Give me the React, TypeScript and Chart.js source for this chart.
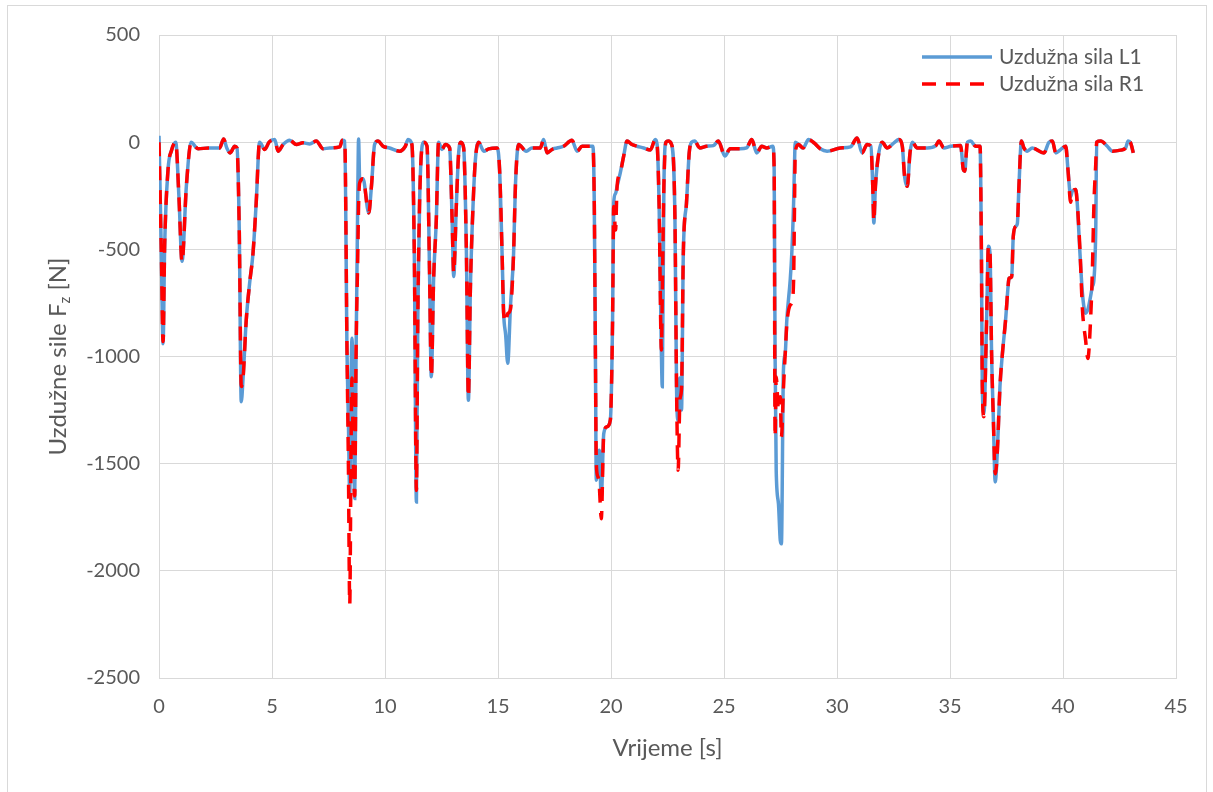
import React, { useEffect, useRef } from "react";
import { Chart, registerables } from "chart.js";

Chart.register(...registerables);

const timeS = [
  0, 0.1, 0.18, 0.25, 0.4, 0.55, 0.74, 0.88, 1.02, 1.21, 1.43, 1.6, 1.73, 2.2, 2.68, 2.86, 3.0, 3.15, 3.35, 3.45,
  3.55, 3.64, 3.72, 3.86, 4.01, 4.16, 4.3, 4.45, 4.68, 4.87, 5.12, 5.27, 5.49, 5.78, 6.08, 6.37, 6.67, 6.96, 7.26, 7.55,
  8.0, 8.11, 8.22, 8.32, 8.38, 8.44, 8.5, 8.54, 8.6, 8.66, 8.72, 8.8, 8.83, 8.88, 9.03, 9.28, 9.4, 9.54, 9.69, 9.91,
  10.2, 10.65, 10.9, 11.02, 11.19, 11.3, 11.39, 11.45, 11.53, 11.64, 11.71, 11.86, 11.97, 12.05, 12.15, 12.27, 12.37, 12.52, 12.67, 12.86,
  12.97, 13.04, 13.16, 13.26, 13.36, 13.48, 13.6, 13.69, 13.78, 13.9, 14.0, 14.14, 14.37, 14.59, 14.96, 15.07, 15.18, 15.25, 15.34, 15.43,
  15.55, 15.69, 15.77, 15.91, 16.25, 16.5, 16.87, 17.02, 17.17, 17.39, 17.61, 17.9, 18.27, 18.5, 18.72, 18.94, 19.2, 19.26, 19.31, 19.35,
  19.42, 19.48, 19.57, 19.68, 19.82, 19.97, 20.07, 20.12, 20.2, 20.27, 20.41, 20.56, 20.71, 20.93, 21.15, 21.45, 21.74, 21.96, 22.04, 22.13,
  22.23, 22.27, 22.34, 22.43, 22.53, 22.68, 22.83, 22.9, 22.97, 23.05, 23.12, 23.2, 23.34, 23.46, 23.57, 23.7, 23.93, 24.23, 24.53, 24.75,
  25.04, 25.27, 25.71, 26.0, 26.23, 26.45, 26.67, 26.89, 27.16, 27.22, 27.26, 27.31, 27.41, 27.49, 27.54, 27.63, 27.71, 27.78, 27.93, 28.0,
  28.08, 28.12, 28.15, 28.3, 28.5, 28.74, 29.0, 29.26, 29.56, 30.15, 30.6, 30.89, 31.11, 31.33, 31.5, 31.58, 31.63, 31.7, 31.85, 32.0,
  32.22, 32.52, 32.74, 32.89, 32.99, 33.11, 33.23, 33.33, 33.55, 33.99, 34.37, 34.51, 34.73, 35.03, 35.47, 35.59, 35.65, 35.77, 35.91, 36.14,
  36.33, 36.39, 36.43, 36.5, 36.62, 36.7, 36.77, 36.84, 36.92, 37.0, 37.09, 37.21, 37.32, 37.46, 37.57, 37.61, 37.73, 37.8, 37.91, 37.98,
  38.05, 38.16, 38.27, 38.42, 38.64, 39.16, 39.38, 39.53, 39.68, 39.9, 40.12, 40.22, 40.34, 40.41, 40.56, 40.63, 40.75, 40.86, 41.0, 41.1,
  41.22, 41.3, 41.37, 41.45, 41.49, 41.67, 41.96, 42.18, 42.55, 42.77, 42.88, 42.99, 43.11,
];

const sileL1 = [
  30, -500, -940, -486, -128, -40, 0, -250, -556, -206, 0, -20, -31, -27, -27, 15, -27, -50, -19, -27,
  -400, -1211, -1100, -830, -658, -518, -284, 0, -34, 0, 12, -42, -11, 9, -11, -3, -8, 5, -31, -27,
  -22, 9, 5, -985, -1300, -1640, -1100, -915, -1300, -1663, -985, -206, 15, -175, -171, -330, -206, -11, 5, -19,
  -27, -42, -19, 12, -11, -550, -1679, -829, -284, -19, 0, -19, -600, -1094, -642, -362, 0, -34, -11, -27,
  -362, -627, -284, -50, 0, -27, -500, -1204, -673, -284, -81, 0, -42, -31, -27, -128, -518, -798, -900, -1032,
  -767, -518, -206, -11, -42, -27, -27, 12, -50, -34, -27, -19, 9, -42, -19, -19, -19, -284, -985, -1577,
  -1500, -1437, -1655, -1359, -1328, -1297, -829, -284, -240, -206, -143, -65, 5, -11, -19, -27, -37, 12, -11, -300,
  -985, -1141, -206, 0, 5, -11, -362, -1141, -1300, -1100, -1250, -518, -284, -50, 0, 5, -27, -19, -16, 5,
  -65, -31, -31, -27, 12, -50, -19, -27, -19, -130, -985, -1531, -1687, -1858, -1874, -1063, -985, -829, -642, -518,
  -284, -100, 0, -11, -27, 12, -5, -31, -42, -27, -22, 20, -50, -11, -19, -200, -377, -206, -50, 0,
  -27, -3, 12, -19, -159, -206, -50, 0, -27, -27, -16, 5, -27, -19, -16, -128, -136, 0, 5, -19,
  -19, -518, -1141, -1266, -829, -486, -518, -985, -1297, -1585, -1453, -1141, -985, -829, -673, -635, -627, -440, -393, -380,
  -206, 5, -27, -42, -27, -50, 0, 5, -50, -34, -19, -128, -253, -229, -221, -284, -518, -705, -798, -780,
  -720, -673, -640, -400, 0, 5, -19, -42, -37, -27, 5, -3, -50,
];

const sileR1 = [
  0, -500, -930, -486, -128, -40, 0, -250, -560, -206, 0, -20, -31, -27, -27, 15, -27, -50, -19, -27,
  -400, -1140, -1100, -830, -658, -518, -284, 0, -34, 0, 12, -42, -11, 9, -11, -3, -8, 5, -31, -27,
  -22, 9, 5, -985, -1500, -2155, -1400, -1100, -1500, -1650, -985, -500, -300, -190, -171, -330, -206, -11, 5, -19,
  -27, -42, -19, 12, -11, -550, -1625, -829, -284, -19, 0, -19, -600, -1094, -642, -362, 0, -34, -11, -27,
  -362, -610, -284, -50, 0, -27, -500, -1190, -673, -284, -81, 0, -42, -31, -27, -128, -518, -798, -840, -800,
  -780, -518, -206, -11, -42, -27, -27, 12, -50, -34, -27, -19, 9, -42, -19, -19, -19, -284, -985, -1500,
  -1560, -1600, -1757, -1360, -1328, -1297, -829, -300, -410, -206, -143, -65, 5, -11, -19, -27, -37, 12, -11, -300,
  -970, -700, -206, 0, 5, -11, -362, -1141, -1531, -1200, -1150, -518, -284, -50, 0, 5, -27, -19, -16, 5,
  -65, -31, -31, -27, 12, -50, -19, -27, -19, -130, -1375, -1094, -1250, -1188, -1375, -1150, -985, -850, -760, -751,
  -642, -300, -50, -11, -27, 12, -5, -31, -42, -27, -22, 20, -50, -11, -19, -200, -370, -206, -50, 0,
  -27, -3, 12, -19, -159, -206, -50, 0, -27, -27, -16, 5, -27, -19, -16, -128, -136, 0, 5, -19,
  -19, -518, -1141, -1281, -829, -486, -518, -985, -1297, -1547, -1453, -1141, -985, -829, -673, -635, -627, -440, -393, -380,
  -206, 5, -27, -42, -27, -50, 0, 5, -50, -34, -19, -128, -280, -229, -221, -284, -500, -780, -923, -1009,
  -829, -596, -284, -100, 0, 5, -19, -42, -37, -27, 5, -3, -50,
];

const seriesNames = ["Uzdužna sila L1", "Uzdužna sila R1"];
const xTicks = [0, 5, 10, 15, 20, 25, 30, 35, 40, 45];
const yTicks = [500, 0, -500, -1000, -1500, -2000, -2500];
const xTitle = "Vrijeme [s]";
const yTitleMain = "Uzdužne sile F";
const yTitleSub = "z";
const yTitleEnd = " [N]";

const FONT = "Lato, 'Open Sans', sans-serif";
const BLUE = "#5B9BD5";
const RED = "#FF0000";
const TXT = "#595959";
const GRID = "#d9d9d9";

export default function App() {
  const ref = useRef<HTMLCanvasElement | null>(null);

  useEffect(() => {
    if (!ref.current) return;
    const mk = (vals: number[]) => timeS.map((t, i) => ({ x: t, y: vals[i] }));

    const decor = {
      id: "decor",
      afterDraw(chart: any) {
        const ctx = chart.ctx as CanvasRenderingContext2D;
        const area = chart.chartArea;
        ctx.save();
        ctx.strokeStyle = GRID;
        ctx.lineWidth = 1;
        ctx.strokeRect(7.5, 5.5, 1199, 800);
        const items = [
          { name: seriesNames[0], color: BLUE, dash: [] as number[], y: 57 },
          { name: seriesNames[1], color: RED, dash: [14, 10], y: 84 },
        ];
        ctx.font = `21px ${FONT}`;
        ctx.textBaseline = "middle";
        ctx.textAlign = "left";
        for (const it of items) {
          ctx.strokeStyle = it.color;
          ctx.lineWidth = 3.5;
          ctx.setLineDash(it.dash);
          ctx.beginPath();
          ctx.moveTo(922, it.y);
          ctx.lineTo(992, it.y);
          ctx.stroke();
          ctx.setLineDash([]);
          ctx.fillStyle = TXT;
          ctx.fillText(it.name, 999, it.y);
        }
        ctx.font = `24px ${FONT}`;
        ctx.textAlign = "center";
        ctx.fillStyle = TXT;
        ctx.fillText(xTitle, (area.left + area.right) / 2, 748);
        const cy = (area.top + area.bottom) / 2;
        ctx.translate(58, cy);
        ctx.rotate(-Math.PI / 2);
        const fMain = `24px ${FONT}`;
        const fSub = `15px ${FONT}`;
        ctx.font = fMain;
        const w1 = ctx.measureText(yTitleMain).width;
        const w3 = ctx.measureText(yTitleEnd).width;
        ctx.font = fSub;
        const w2 = ctx.measureText(yTitleSub).width;
        const total = w1 + w2 + w3;
        let x0 = -total / 2;
        ctx.textAlign = "left";
        ctx.font = fMain;
        ctx.fillText(yTitleMain, x0, 0);
        x0 += w1;
        ctx.font = fSub;
        ctx.fillText(yTitleSub, x0, 7);
        x0 += w2;
        ctx.font = fMain;
        ctx.fillText(yTitleEnd, x0, 0);
        ctx.restore();
      },
    };

    const chart = new Chart(ref.current, {
      type: "line",
      data: {
        datasets: [
          {
            label: seriesNames[0],
            data: mk(sileL1),
            borderColor: BLUE,
            borderWidth: 3.5,
            pointRadius: 0,
            cubicInterpolationMode: "monotone",
            fill: false,
            order: 2,
          },
          {
            label: seriesNames[1],
            data: mk(sileR1),
            borderColor: RED,
            borderWidth: 3.5,
            borderDash: [14, 10],
            pointRadius: 0,
            cubicInterpolationMode: "monotone",
            fill: false,
            order: 1,
          },
        ],
      },
      options: {
        animation: false,
        responsive: false,
        maintainAspectRatio: false,
        layout: { padding: { left: 0, right: 37, top: 35, bottom: 0 } },
        plugins: { legend: { display: false }, tooltip: { enabled: false } },
        scales: {
          x: {
            type: "linear",
            min: 0,
            max: 45,
            afterBuildTicks: (s: any) => {
              s.ticks = xTicks.map((v) => ({ value: v }));
            },
            afterFit: (s: any) => {
              s.height = 114;
            },
            grid: { color: GRID, lineWidth: 1, drawTicks: false },
            border: { color: GRID },
            ticks: {
              color: TXT,
              font: { family: FONT, size: 20 },
              padding: 17,
              maxRotation: 0,
              callback: (v: any) => String(v),
            },
          },
          y: {
            type: "linear",
            min: -2500,
            max: 500,
            afterBuildTicks: (s: any) => {
              s.ticks = yTicks.map((v) => ({ value: v }));
            },
            afterFit: (s: any) => {
              s.width = 159;
            },
            grid: { color: GRID, lineWidth: 1, drawTicks: false },
            border: { color: GRID },
            ticks: {
              color: TXT,
              font: { family: FONT, size: 20 },
              padding: 19,
              callback: (v: any) => String(v),
            },
          },
        },
      },
      plugins: [decor],
    } as any);
    return () => chart.destroy();
  }, []);

  return (
    <div style={{ position: "fixed", left: 0, top: 0, width: 1213, height: 792, background: "#fff" }}>
      <canvas ref={ref} width={1213} height={792} style={{ display: "block" }} />
    </div>
  );
}
